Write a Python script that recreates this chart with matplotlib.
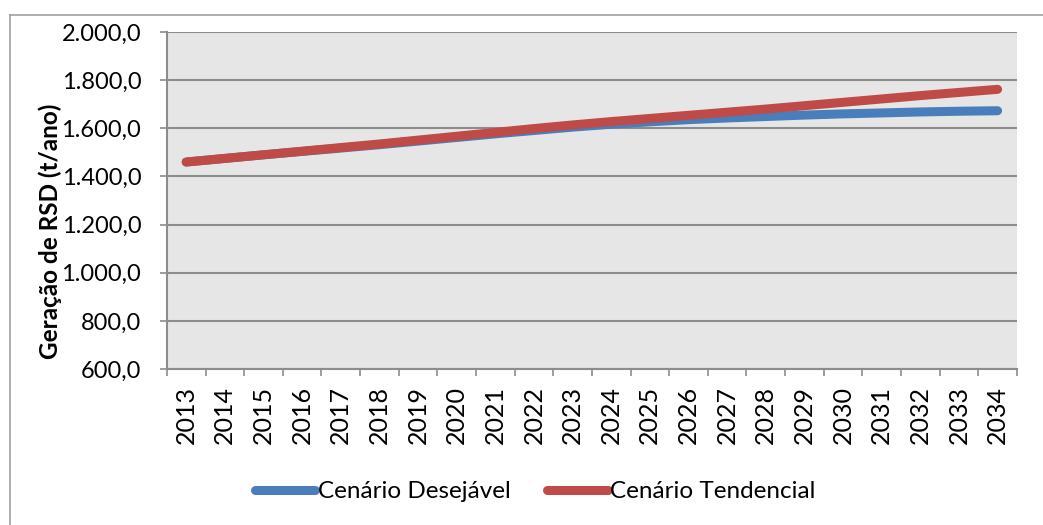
import numpy as np
import matplotlib
matplotlib.use('Agg')
import matplotlib.pyplot as plt
from matplotlib.lines import Line2D

plt.rcParams['font.family'] = ['Lato', 'DejaVu Sans']

anos = [str(a) for a in range(2013, 2035)]
desejavel = [1460, 1475, 1490, 1504, 1518, 1532, 1547, 1562, 1577, 1591, 1605,
             1617, 1627, 1636, 1643, 1649, 1655, 1660, 1664, 1668, 1671, 1673]
tendencial = [1460, 1475, 1490, 1505, 1520, 1535, 1551, 1567, 1583, 1599, 1614,
              1628, 1641, 1654, 1667, 1680, 1694, 1708, 1722, 1736, 1749, 1762]
y_ticks = [600, 800, 1000, 1200, 1400, 1600, 1800, 2000]
y_labels = ['600,0', '800,0', '1.000,0', '1.200,0', '1.400,0', '1.600,0', '1.800,0', '2.000,0']

fig = plt.figure(figsize=(10.43, 5.25), dpi=100)
ax = fig.add_axes([0.160, 0.297, 0.815, 0.642])
ax.set_facecolor('#e6e6e6')

x = np.arange(len(anos))
ax.plot(x, desejavel, color='#4a7ebb', lw=6.5, solid_capstyle='round', label='Cenário Desejável', zorder=3)
ax.plot(x, tendencial, color='#be4b48', lw=6.5, solid_capstyle='round', label='Cenário Tendencial', zorder=4)

ax.set_xlim(-0.5, len(anos) - 0.5)
ax.set_ylim(600, 2000)
ax.set_yticks(y_ticks)
ax.set_yticklabels(y_labels, fontsize=17)
ax.yaxis.grid(True, color='#8c8c8c', lw=1.5)
ax.set_axisbelow(True)

# ticks at category boundaries, labels at centres
ax.set_xticks(np.arange(-0.5, len(anos), 1.0))
ax.set_xticklabels([])
ax.set_xticks(x, minor=True)
ax.set_xticklabels(anos, minor=True, rotation=90, fontsize=18)
ax.tick_params(axis='x', which='major', length=5, color='#8c8c8c', width=1.2)
ax.tick_params(axis='x', which='minor', length=0, pad=12)
ax.tick_params(axis='y', length=5, color='#8c8c8c', width=1.2, pad=13.5)

for s in ['top', 'right']:
    ax.spines[s].set_visible(False)
for s in ['left', 'bottom']:
    ax.spines[s].set_color('#8c8c8c')
    ax.spines[s].set_linewidth(1.5)

ax.set_ylabel('Geração de RSD (t/ano)', fontsize=17.5, fontweight='bold')
ax.yaxis.set_label_coords(-0.123, 0.41)

leg = fig.legend(loc='center', bbox_to_anchor=(0.513, 0.063), ncol=2, frameon=False,
                 fontsize=17.5, handlelength=2.5, handletextpad=0.1, columnspacing=1.5)

# outer chart border
fig.add_artist(Line2D([10 / 1043, 1.0], [1 - 15 / 525, 1 - 15 / 525], color='#a0a0a0', lw=1.2))
fig.add_artist(Line2D([10 / 1043, 10 / 1043], [0.0, 1 - 15 / 525], color='#a0a0a0', lw=1.2))

fig.savefig('out.png', dpi=100)
